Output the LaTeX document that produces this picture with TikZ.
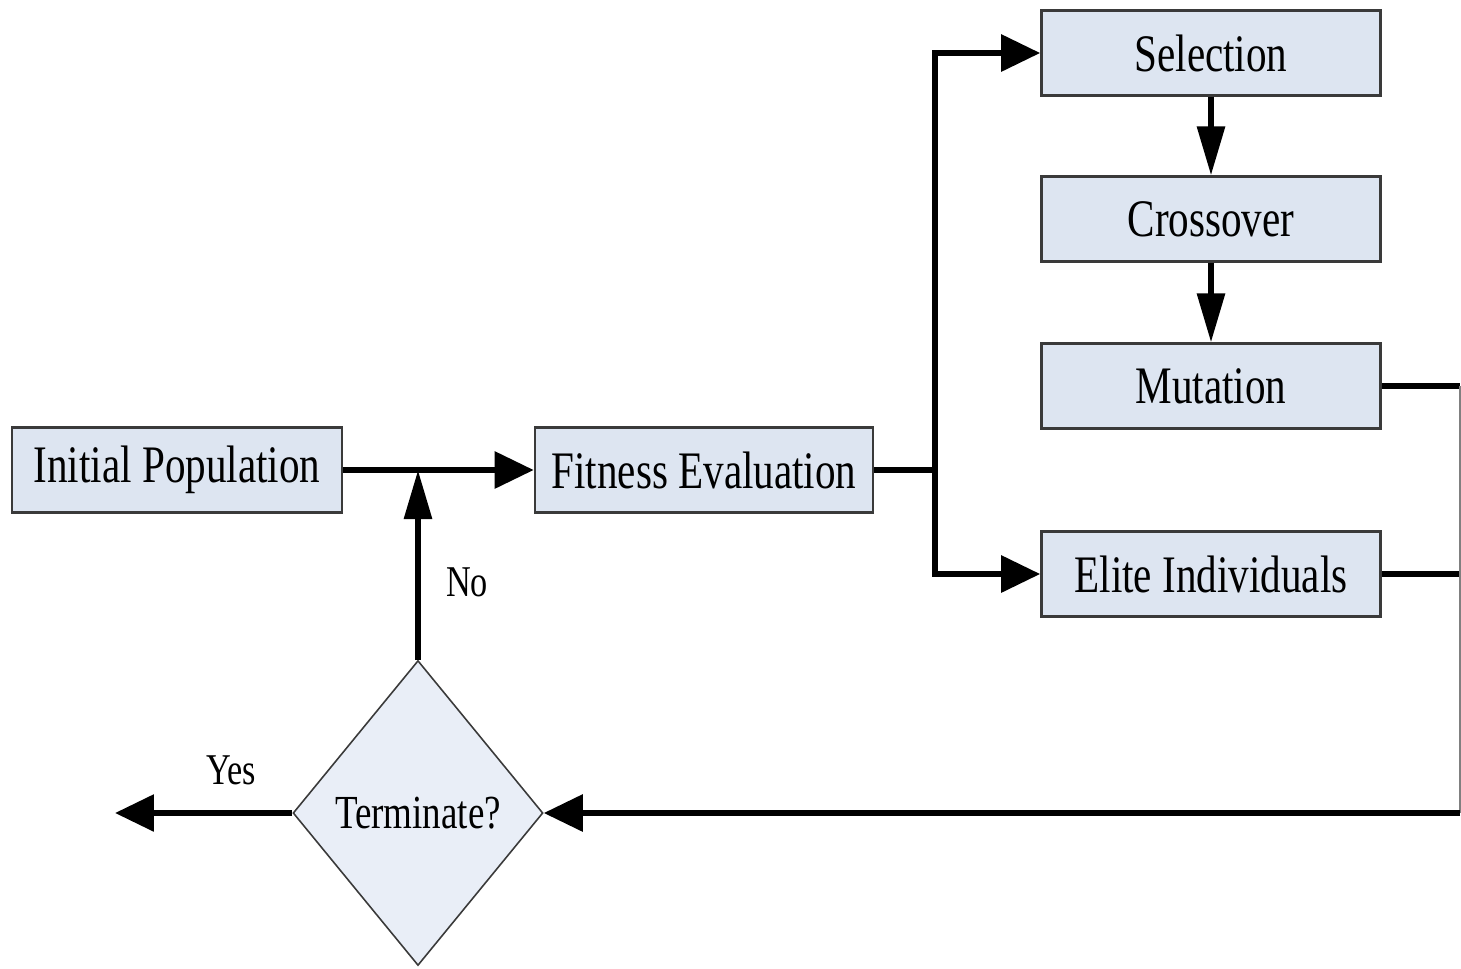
\documentclass[tikz,border=0pt]{standalone}
\usepackage{fontspec}
\setmainfont{Liberation Serif}[FakeStretch=0.78]
\usetikzlibrary{arrows.meta,shapes.geometric}
\definecolor{boxfill}{HTML}{DDE5F1}
\definecolor{decfill}{HTML}{E9EEF7}
\definecolor{edge}{HTML}{3A3A3A}
\begin{document}
\begin{tikzpicture}[x=0.02cm,y=-0.02cm,
  stage/.style={draw=edge, line width=1.5pt, fill=boxfill, minimum height=1.69cm,
    inner sep=0pt, font=\fontsize{30}{36}\selectfont},
  flow/.style={line width=3.4pt, draw=black},
  htip/.style={-{Triangle[length=0.78cm,width=0.72cm]}},
  vtip/.style={-{Triangle[length=0.98cm,width=0.54cm]}},
  lbl/.style={font=\fontsize{25}{30}\selectfont}]
  \useasboundingbox (0,0) rectangle (1461,968);

  % process stages
  \node[stage, minimum width=6.6cm]  (init)  at (177,470)  {Initial Population};
  \node[stage, minimum width=6.76cm] (fit)   at (704,470)  {Fitness Evaluation};
  \node[stage, minimum width=6.78cm] (sel)   at (1211,53)  {Selection};
  \node[stage, minimum width=6.78cm] (cross) at (1211,219) {Crossover};
  \node[stage, minimum width=6.78cm] (mut)   at (1211,386) {Mutation};
  \node[stage, minimum width=6.78cm] (elite) at (1211,574) {Elite Individuals};

  % decision
  \node[diamond, draw=edge, line width=0.9pt, fill=decfill, minimum width=5cm,
    minimum height=6.1cm, inner sep=0pt, font=\fontsize{27}{32}\selectfont]
    (term) at (418,813) {Terminate?};

  % helper points
  \coordinate (split)   at (935,470);
  \coordinate (railtop) at (1460,386);
  \coordinate (railbot) at (1460,813);
  \coordinate (yesend)  at (115,813);

  % connectors
  \draw[flow,htip] (init.east) -- (fit.west);
  \draw[flow,vtip] (term.north) -- (term.north |- init.east);
  \draw[flow] (fit.east) -- (split);
  \draw[flow,htip] (split) |- (sel.west);
  \draw[flow,htip] (split) |- (elite.west);
  \draw[flow,vtip] (sel.south) -- (cross.north);
  \draw[flow,vtip] (cross.south) -- (mut.north);
  \draw[flow] (mut.east) -- (railtop);
  \draw[flow] (elite.east) -- (elite.east -| railtop);
  \draw[line width=0.9pt, draw=gray] (railtop) -- (railbot);
  \draw[flow,htip] (railbot) -- (term.east);
  \draw[flow,htip] (term.west) -- (yesend);

  % branch labels
  \node[lbl] (no)  at (467,582) {No};
  \node[lbl] (yes) at (231,770) {Yes};
\end{tikzpicture}
\end{document}
